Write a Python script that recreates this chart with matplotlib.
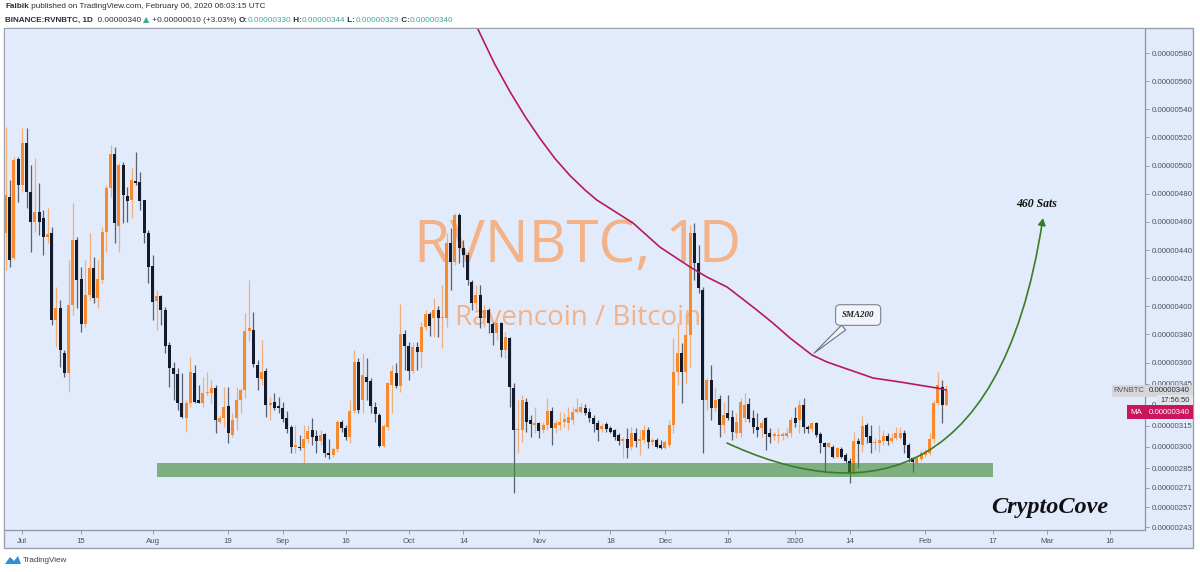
import numpy as np
import pandas as pd
import matplotlib
matplotlib.use("Agg")
import matplotlib.pyplot as plt
import matplotlib.dates as mdates
import matplotlib.transforms as mtransforms
from matplotlib.patches import Rectangle, FancyArrowPatch, Polygon
from matplotlib.path import Path

plt.rcParams['font.family'] = ['Liberation Sans', 'DejaVu Sans']

# ---------------- data (prices in satoshi = 1e-8 BTC) ----------------
dates = pd.date_range(end='2020-02-06', periods=225, freq='D')

opens = [451.9,477.9,434.1,504.4,486.2,516.3,481.5,460.1,467.3,462.5,
         449.0,451.9,390.3,398.6,366.6,352.4,400.9,447.1,419.2,387.4,
         408.0,427.0,405.7,418.7,453.0,483.8,508.2,457.1,500.4,478.4,
         475.5,488.6,488.6,475.5,451.9,428.6,404.0,407.3,397.4,372.5,
         355.9,351.9,331.0,320.4,331.0,352.8,333.4,331.5,338.2,338.6,
         341.7,318.0,320.4,329.1,308.5,320.4,333.4,340.5,382.4,383.1,
         358.2,348.0,354.2,329.8,331.7,329.1,327.4,320.3,314.4,300.2,
         300.2,299.0,305.4,312.0,307.8,304.5,309.2,295.5,294.3,298.3,
         317.5,313.2,306.8,325.8,360.1,333.4,350.0,346.9,328.6,322.7,
         300.9,314.0,344.0,352.8,343.5,380.0,372.0,354.2,371.3,367.7,
         385.5,394.5,391.4,397.3,391.4,391.4,444.7,431.7,464.8,441.2,
         436.4,417.5,402.1,408.0,391.4,397.3,387.4,381.2,388.3,368.9,
         377.2,341.7,312.0,312.0,332.2,319.2,315.6,316.8,312.0,315.6,
         325.8,313.2,315.6,318.0,317.3,319.2,325.1,325.1,327.4,325.1,
         320.3,316.8,312.5,316.3,313.7,312.0,308.5,304.5,305.4,299.7,
         310.1,304.5,305.0,312.0,303.7,304.9,301.4,299.0,301.4,315.6,
         353.5,366.5,353.5,379.5,451.8,430.5,411.5,333.4,347.6,327.4,
         333.8,315.6,323.9,321.0,309.7,309.7,320.3,330.5,320.3,313.9,
         313.2,320.8,309.7,307.8,307.8,307.8,307.8,309.7,320.8,319.1,
         329.9,314.0,312.6,316.8,309.2,303.1,300.3,300.3,293.2,298.4,
         294.3,290.3,281.3,304.5,301.4,315.7,307.8,302.6,302.6,304.5,
         307.8,304.5,306.2,306.2,309.7,301.4,292.0,288.4,291.3,294.3,
         295.5,305.5,331.1,342.9,330.0]

highs = [527.7,489.8,506.3,506.3,526.5,526.5,500.4,505.2,487.4,468.4,
         469.6,456.6,413.9,404.5,369.0,432.9,473.2,449.5,428.2,432.9,
         451.9,435.3,432.9,456.6,486.2,514.6,513.4,501.6,502.8,485.0,
         498.0,509.9,495.7,475.5,454.2,436.5,411.6,408.0,399.7,374.8,
         360.7,355.9,352.4,333.4,364.2,358.3,344.1,350.0,353.5,347.6,
         344.1,322.8,342.9,342.9,323.9,342.9,341.7,395.0,418.6,396.1,
         361.8,376.0,355.9,335.7,338.6,335.7,332.2,325.8,315.6,315.6,
         308.5,315.6,315.6,320.3,312.0,312.0,309.7,306.0,300.2,319.2,
         319.2,315.6,333.4,368.9,363.0,366.5,363.0,348.8,332.2,323.9,
         316.3,346.4,358.2,359.4,401.6,383.1,374.8,374.8,374.8,389.0,
         397.3,396.1,405.6,400.2,415.1,451.8,455.4,466.0,466.5,447.1,
         438.8,418.6,415.1,415.1,400.9,398.5,389.0,389.0,389.0,381.9,
         378.4,345.2,333.4,336.9,334.5,322.7,328.6,318.0,318.0,334.5,
         328.6,319.2,325.1,323.9,328.6,328.6,334.5,331.0,330.5,327.4,
         322.7,319.2,317.3,318.0,314.9,312.5,309.7,307.3,313.2,314.4,
         313.2,312.0,315.6,314.4,306.1,306.1,304.9,304.9,319.2,377.2,
         387.8,373.6,395.0,457.7,458.9,443.5,413.9,348.7,358.2,342.8,
         336.9,332.2,336.9,326.2,323.9,334.5,338.1,334.5,326.2,323.9,
         319.1,321.5,313.2,310.9,313.2,310.9,313.2,321.5,328.6,333.4,
         334.6,315.7,318.0,318.0,310.9,303.8,303.8,301.4,300.3,300.3,
         295.5,292.0,310.9,306.2,322.1,317.3,315.7,306.2,315.7,312.1,
         309.7,309.7,314.5,314.5,312.1,302.6,293.2,294.3,297.9,298.4,
         310.2,333.4,353.6,347.6,344.0]

lows = [425.8,428.2,433.0,474.4,481.5,469.6,438.8,453.0,450.7,436.5,
        444.7,386.7,371.3,357.1,350.0,339.3,393.8,398.6,382.0,385.5,
        404.5,402.1,398.6,416.3,438.8,477.9,444.7,438.8,459.0,460.1,
        462.5,486.0,468.4,444.7,416.3,390.3,383.2,386.7,366.6,342.9,
        333.4,326.3,320.4,310.9,328.7,331.0,331.0,328.7,337.0,331.0,
        309.7,316.8,314.5,302.6,307.3,312.0,324.0,335.0,375.0,357.0,
        340.5,344.0,321.5,319.2,326.3,323.9,318.0,309.7,295.5,295.5,
        297.8,288.4,302.6,301.4,295.5,301.4,293.1,291.2,293.1,296.6,
        310.9,305.0,302.6,323.9,323.9,323.9,333.4,323.9,318.0,300.2,
        300.2,312.0,323.9,341.7,338.8,354.7,347.6,352.3,354.7,357.0,
        383.1,378.8,378.4,378.4,370.1,385.0,411.5,429.3,430.5,428.1,
        415.1,397.3,397.3,384.3,385.5,380.7,372.5,376.0,364.2,363.0,
        328.6,267.0,295.5,303.7,310.9,307.3,309.7,306.1,309.7,312.0,
        301.4,309.7,312.0,314.4,312.0,316.3,323.9,323.9,322.7,318.0,
        310.9,304.5,310.9,310.9,309.7,305.0,301.4,291.9,291.9,297.8,
        300.2,294.3,302.6,299.0,301.4,299.0,298.3,298.3,300.2,309.7,
        344.0,331.0,345.2,357.0,418.6,409.2,295.5,326.2,319.1,325.1,
        307.3,309.7,319.1,304.9,306.1,307.3,318.0,317.9,309.7,307.3,
        307.3,297.8,302.6,304.9,302.6,304.9,306.1,307.3,314.4,309.7,
        309.7,309.7,310.9,307.4,295.5,282.5,299.1,292.0,292.0,292.0,
        288.4,274.2,280.1,284.9,296.7,302.6,295.5,297.9,296.7,301.4,
        301.4,302.6,305.0,305.5,295.5,289.6,282.5,287.2,290.3,293.2,
        294.3,303.1,329.9,317.3,329.0]

closes = [479.1,432.9,504.0,486.2,516.3,481.5,460.1,467.3,460.1,449.5,
          451.4,390.3,398.6,369.0,352.4,400.9,447.1,418.7,387.4,408.0,
          427.0,405.7,419.2,453.0,483.8,508.2,459.0,500.4,479.1,475.1,
          489.8,487.9,475.1,451.9,428.2,403.3,407.5,397.4,371.8,355.9,
          351.9,331.5,321.6,331.0,353.5,332.2,331.5,338.6,339.3,342.2,
          319.2,320.4,328.7,309.7,319.2,333.4,340.5,382.4,384.3,358.9,
          349.2,353.5,329.8,331.0,327.9,327.9,319.9,312.7,300.2,301.4,
          299.0,305.4,311.3,307.3,304.5,308.5,295.9,294.3,298.3,318.0,
          313.2,306.8,325.8,360.1,326.3,351.1,346.4,329.3,323.4,300.9,
          315.1,345.2,354.2,343.5,380.0,372.0,354.2,371.3,367.7,385.5,
          394.5,386.0,397.3,391.4,392.2,444.7,431.7,464.8,441.2,436.4,
          418.6,402.1,408.0,391.4,397.3,387.8,381.2,387.8,368.9,378.4,
          342.8,312.0,312.5,333.4,318.0,316.3,317.3,311.6,315.6,325.8,
          313.2,316.8,318.0,319.6,321.5,325.1,326.7,328.2,323.9,320.3,
          316.3,312.0,314.9,312.5,310.4,306.8,304.5,305.4,299.0,310.1,
          304.5,305.0,312.0,303.7,304.9,300.2,299.0,303.7,315.6,353.5,
          366.5,353.5,379.5,451.8,430.5,412.7,333.4,347.6,327.4,333.4,
          315.6,322.7,320.3,310.8,317.9,332.2,329.8,319.6,314.4,312.0,
          316.8,309.2,307.3,309.0,308.5,309.2,309.7,319.1,317.3,329.8,
          314.5,312.6,316.8,308.5,302.6,300.3,302.6,293.2,299.1,293.2,
          290.3,281.3,304.5,302.2,314.9,307.4,302.6,303.8,305.0,307.8,
          304.5,306.7,310.2,310.2,301.4,292.0,289.6,292.0,296.0,296.7,
          305.5,331.1,344.1,329.9,340.0]

# SMA200 (days after first candle, price)
sma_day = [110.6, 116.5, 120.1, 123.7, 127.3, 130.8, 134.4, 138.0, 140.8, 149.4,
           155.8, 163.0, 167.0, 171.8, 174.9, 178.9, 182.7, 186.8, 192.0, 195.6,
           200.4, 206.6, 213.0, 221.8, 224.0]
sma_val = [608.6, 572.0, 552.6, 534.9, 519.1, 505.1, 492.9, 482.6, 475.5, 459.2,
           442.1, 427.9, 420.8, 413.7, 406.6, 397.3, 388.1, 377.4, 365.4, 360.4,
           355.4, 349.0, 346.2, 341.9, 340.5]

# x-axis ticks
xtick_dates = ['2019-07-01', '2019-07-15', '2019-08-01', '2019-08-19', '2019-09-01',
               '2019-09-16', '2019-10-01', '2019-10-14', '2019-11-01', '2019-11-18',
               '2019-12-01', '2019-12-16', '2020-01-01', '2020-01-14', '2020-02-01',
               '2020-02-17', '2020-03-01', '2020-03-16']
xtick_labels = ['Jul', '15', 'Aug', '19', 'Sep', '16', 'Oct', '14', 'Nov', '18',
                'Dec', '16', '2020', '14', 'Feb', '17', 'Mar', '16']
ytick_vals = [580, 560, 540, 520, 500, 480, 460, 440, 420, 400, 380, 360, 345,
              330, 315, 300, 285, 271, 257, 243]

# drawings
support_dates = ['2019-08-02', '2020-02-17']
support_prices = [278.7, 288.6]
arc_day = [171.8, 201.1, 236.8, 247.0]
arc_val = [302.8, 262.3, 262.3, 462.7]
last_price = 340
ma_value = 340

# ---------------- figure ----------------
W, H = 1200, 572
BG = '#e2ebfb'
fig = plt.figure(figsize=(W / 100, H / 100), dpi=100)
fig.patch.set_facecolor('white')

def fx(px):
    return px / W

def fy(py):
    return 1 - py / H

# outer chart frame (behind the axes)
frame = Rectangle((fx(4), fy(548)), fx(1193) - fx(4), fy(28) - fy(548),
                  transform=fig.transFigure, facecolor=BG, edgecolor='#9aa0ab',
                  linewidth=1.0, zorder=-10)
fig.add_artist(frame)

ax = fig.add_axes([fx(5), fy(530), fx(1145) - fx(5), fy(29) - fy(530)])
ax.set_zorder(1)
ax.set_facecolor(BG)

x = mdates.date2num(dates.to_pydatetime())
x0 = x[0]
o = np.array(opens); h = np.array(highs); l = np.array(lows); c = np.array(closes)
up = c >= o

UP_BODY = '#f68a2c'
UP_WICK = '#f3ad78'
DN_BODY = '#131a2c'
DN_WICK = '#5a6070'

ax.vlines(x[up], l[up], h[up], color=UP_WICK, linewidth=0.9, zorder=3)
ax.vlines(x[~up], l[~up], h[~up], color=DN_WICK, linewidth=0.9, zorder=3)
bottoms = np.minimum(o, c)
heights = np.maximum(np.abs(c - o), 0.9)
ax.bar(x[up], heights[up], bottom=bottoms[up], width=0.72, color=UP_BODY,
       linewidth=0, zorder=4)
ax.bar(x[~up], heights[~up], bottom=bottoms[~up], width=0.72, color=DN_BODY,
       linewidth=0, zorder=4)

# watermark
wx = x0 + 136.3
ax.text(wx, 442, 'RVNBTC, 1D', ha='center', va='center', fontsize=42,
        color='#f3b287', family=['Open Sans', 'DejaVu Sans'], zorder=1)
ax.text(wx, 391.7, 'Ravencoin / Bitcoin', ha='center', va='center', fontsize=20,
        color='#f3b287', family=['Open Sans', 'DejaVu Sans'], zorder=1)

# SMA 200
ax.plot(x0 + np.array(sma_day), sma_val, color='#b8195e', linewidth=1.2, zorder=5,
        solid_joinstyle='round')

# support zone
sd = mdates.date2num(pd.to_datetime(support_dates).to_pydatetime())
ax.add_patch(Rectangle((sd[0], support_prices[0]), sd[1] - sd[0],
                       support_prices[1] - support_prices[0],
                       facecolor='#3f8a35', alpha=0.62, linewidth=0, zorder=6))

# curved arrow
verts = list(zip(x0 + np.array(arc_day), arc_val))
arc = FancyArrowPatch(path=Path(verts, [Path.MOVETO, Path.CURVE4, Path.CURVE4, Path.CURVE4]),
                      arrowstyle='-|>,head_length=4,head_width=2.2', color='#3b7d25',
                      linewidth=1.2, transform=ax.transData, zorder=7)
ax.add_patch(arc)

ax.text(x0 + 245.6, 472.7, '460 Sats', ha='center', va='center', fontsize=8.5,
        fontweight='bold', fontstyle='italic', family='Liberation Serif', color='#111',
        zorder=8)
ax.text(x0 + 248.7, 257.3, 'CryptoCove', ha='center', va='center', fontsize=17.5,
        fontweight='bold', fontstyle='italic', family='Liberation Serif', color='#111',
        zorder=8)

ax.annotate('SMA200', xy=(x0 + 192.0, 365.4), xytext=(x0 + 203.0, 393.8),
            ha='center', va='center', fontsize=6.5, fontweight='bold',
            fontstyle='italic', family='Liberation Serif', color='#222', zorder=9,
            bbox=dict(boxstyle='round,pad=0.7,rounding_size=0.5', fc='#f1f4fb',
                      ec='#7d828e', lw=0.8),
            arrowprops=dict(arrowstyle='wedge,tail_width=0.7,shrink_factor=0.5',
                            fc='#f1f4fb', ec='#6b707c', lw=0.8))

# axes limits and ticks
ax.set_xlim(x0 - 0.12, x0 + 271.3)
ax.set_ylim(241.0, 597.1)

ax.set_xticks(mdates.date2num(pd.to_datetime(xtick_dates).to_pydatetime()))
ax.set_xticklabels(xtick_labels)
ax.yaxis.tick_right()
ax.set_yticks(ytick_vals)
ax.set_yticklabels(['0.%08d' % v for v in ytick_vals])
ax.tick_params(axis='both', colors='#8a8f9a', labelcolor='#4d525e', labelsize=5.7,
               length=3, width=0.6)
ax.tick_params(axis='x', pad=3)
ax.tick_params(axis='y', pad=2)
for s in ['left', 'top']:
    ax.spines[s].set_visible(False)
for s in ['right', 'bottom']:
    ax.spines[s].set_color('#8f95a0')
    ax.spines[s].set_linewidth(0.9)

# price-scale labels
tr = mtransforms.blended_transform_factory(ax.transAxes, ax.transData)
ax_w = 1140.0

def axx(px):
    return (px - 5) / ax_w

ax.add_patch(Rectangle((axx(1112), last_price - 4.3), axx(1193) - axx(1112), 8.6,
                       transform=tr, clip_on=False, facecolor='#d5d6da', lw=0, zorder=10))
ax.text(axx(1129), last_price, 'RVNBTC', transform=tr, ha='center', va='center',
        fontsize=5.4, color='#4d525e', clip_on=False, zorder=11)
ax.text(axx(1169), last_price, '0.%08d' % last_price, transform=tr, ha='center',
        va='center', fontsize=5.7, color='#2a2e39', clip_on=False, zorder=11)

ax.add_patch(Rectangle((axx(1157), 328.8), axx(1193) - axx(1157), 8.0,
                       transform=tr, clip_on=False, facecolor='#e3e5ea', lw=0, zorder=10))
ax.text(axx(1175), 332.8, '17:56:50', transform=tr, ha='center', va='center',
        fontsize=5.4, color='#2a2e39', clip_on=False, zorder=11)

ax.add_patch(Rectangle((axx(1127), 320.0), axx(1193) - axx(1127), 9.6,
                       transform=tr, clip_on=False, facecolor='#c8175d', lw=0, zorder=10))
ax.text(axx(1136), 324.8, 'MA', transform=tr, ha='center', va='center',
        fontsize=5.7, color='white', clip_on=False, zorder=11)
ax.text(axx(1169), 324.8, '0.%08d' % ma_value, transform=tr, ha='center',
        va='center', fontsize=5.7, color='white', clip_on=False, zorder=11)

# ---------------- header ----------------
renderer = fig.canvas.get_renderer()

def write_line(y_px, pieces, size=5.9):
    xpos = fx(5)
    for s, kw in pieces:
        t = fig.text(xpos, fy(y_px), s, fontsize=size, va='center', ha='left', **kw)
        bb = t.get_window_extent(renderer)
        xpos += bb.width / W

DARK = '#2a2e39'
TEAL = '#3aa99a'
write_line(7, [('Faibik', dict(color=DARK, fontweight='bold')),
               (' published on TradingView.com, February 06, 2020 06:03:15 UTC',
                dict(color=DARK))])
write_line(20, [('BINANCE:RVNBTC, 1D', dict(color=DARK, fontweight='bold')),
                ('  0.00000340 ', dict(color=DARK)),
                ('\u25b2', dict(color='#3aa99a', family=['DejaVu Sans'])),
                (' +0.00000010 (+3.03%) ', dict(color=DARK)),
                ('O:', dict(color=DARK, fontweight='bold')),
                ('0.00000330', dict(color=TEAL)),
                (' H:', dict(color=DARK, fontweight='bold')),
                ('0.00000344', dict(color=TEAL)),
                (' L:', dict(color=DARK, fontweight='bold')),
                ('0.00000329', dict(color=TEAL)),
                (' C:', dict(color=DARK, fontweight='bold')),
                ('0.00000340', dict(color=TEAL))])

# TradingView footer logo
logo = Polygon([[fx(5), fy(564)], [fx(10), fy(557)], [fx(14), fy(561)],
                [fx(18), fy(556)], [fx(21), fy(564)]], closed=True,
               transform=fig.transFigure, facecolor='#2f8fd8', edgecolor='none')
fig.add_artist(logo)
fig.text(fx(23), fy(561), 'TradingView', fontsize=5.8, color='#3b3f4a', va='center',
         ha='left')

fig.savefig('out.png', dpi=100, facecolor='white')
